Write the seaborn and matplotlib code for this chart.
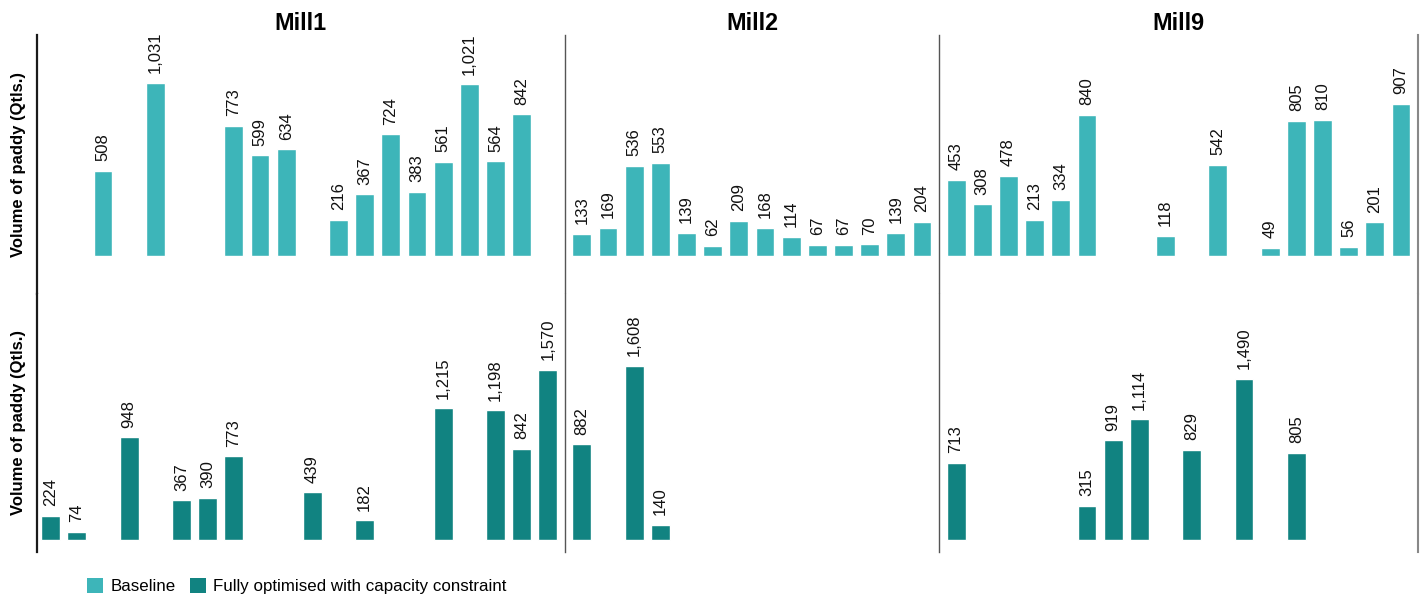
import numpy as np
import pandas as pd
import matplotlib
matplotlib.use('Agg')
import matplotlib.pyplot as plt
import seaborn as sns
from matplotlib.patches import Patch

# Data
mills = ['Mill1', 'Mill2', 'Mill9']
scenarios = ['Baseline', 'Fully optimised with capacity constraint']
colors = ['#3DB5B9', '#118381']

nan = np.nan
mill1_baseline = [nan, nan, 508, nan, 1031, nan, nan, 773, 599, 634,
                  nan, 216, 367, 724, 383, 561, 1021, 564, 842, nan]
mill1_optimised = [224, 74, nan, 948, nan, 367, 390, 773, nan, nan,
                   439, nan, 182, nan, nan, 1215, nan, 1198, 842, 1570]
mill2_baseline = [133, 169, 536, 553, 139, 62, 209, 168, 114, 67, 67, 70, 139, 204]
mill2_optimised = [882, nan, 1608, 140, nan, nan, nan, nan, nan, nan, nan, nan, nan, nan]
mill9_baseline = [453, 308, 478, 213, 334, 840, nan, nan, 118, nan,
                  542, nan, 49, 805, 810, 56, 201, 907]
mill9_optimised = [713, nan, nan, nan, nan, 315, 919, 1114, nan, 829,
                   nan, 1490, nan, 805, nan, nan, nan, nan]

values = {
    ('Mill1', scenarios[0]): mill1_baseline,
    ('Mill1', scenarios[1]): mill1_optimised,
    ('Mill2', scenarios[0]): mill2_baseline,
    ('Mill2', scenarios[1]): mill2_optimised,
    ('Mill9', scenarios[0]): mill9_baseline,
    ('Mill9', scenarios[1]): mill9_optimised,
}

rows = []
for (mill, scen), vals in values.items():
    for i, v in enumerate(vals):
        rows.append({'mill': mill, 'village': f'V{i + 1:02d}', 'scenario': scen, 'volume': v})
df = pd.DataFrame(rows)

sns.set_style('white')
plt.rcParams['font.family'] = ['Liberation Sans', 'DejaVu Sans']
plt.rcParams['text.color'] = '#000000'
plt.rcParams['axes.labelcolor'] = '#000000'

n_slots = [len(mill1_baseline), len(mill2_baseline), len(mill9_baseline)]
xlims = [(-0.52, n_slots[0] - 0.35), (-0.65, n_slots[1] - 0.35), (-0.65, n_slots[2] - 0.35)]
ylims = [(-223, 1315), (-111, 2276)]

fig = plt.figure(figsize=(14.26, 5.97), dpi=100)
gs = fig.add_gridspec(2, 3, left=37 / 1426, right=1418 / 1426, top=1 - 35 / 597, bottom=1 - 552 / 597,
                      hspace=0, wspace=0, width_ratios=[hi - lo for lo, hi in xlims])

for r, scen in enumerate(scenarios):
    for c, mill in enumerate(mills):
        ax = fig.add_subplot(gs[r, c])
        order = [f'V{i + 1:02d}' for i in range(n_slots[c])]
        sub = df[(df.mill == mill) & (df.scenario == scen)].dropna()
        sns.barplot(data=sub, x='village', y='volume', order=order, color=colors[r],
                    width=0.72, errorbar=None, saturation=1, ax=ax)
        for cont in ax.containers:
            ax.bar_label(cont, fmt='{:,.0f}', rotation=90, padding=7, fontsize=12, color='#111111')
        ax.set_xlim(*xlims[c])
        ax.set_ylim(*ylims[r])
        ax.set_xlabel('')
        ax.set_xticks([])
        ax.set_yticks([])
        for s in ['top', 'bottom', 'right']:
            ax.spines[s].set_visible(False)
        if c == 0:
            ax.spines['left'].set_color('#1a1a1a')
            ax.spines['left'].set_linewidth(1.6)
            ax.set_ylabel('Volume of paddy (Qtls.)', fontsize=12, fontweight='bold', labelpad=8)
        else:
            ax.spines['left'].set_color('#555555')
            ax.spines['left'].set_linewidth(1.0)
            ax.set_ylabel('')
        if c == 2:
            ax.spines['right'].set_visible(True)
            ax.spines['right'].set_color('#888888')
            ax.spines['right'].set_linewidth(1.5)
        if r == 0:
            ax.set_title(mill, fontsize=16.8, fontweight='bold', pad=3)

handles = [Patch(facecolor=colors[0], edgecolor='none'), Patch(facecolor=colors[1], edgecolor='none')]
fig.legend(handles, scenarios, loc='center left', bbox_to_anchor=(87 / 1426, 1 - 586 / 597),
           ncol=2, frameon=False, fontsize=12.2, handlelength=0.95, handleheight=0.95,
           handletextpad=0.45, columnspacing=0.8, borderpad=0, borderaxespad=0)

fig.savefig('out.png', dpi=100)
